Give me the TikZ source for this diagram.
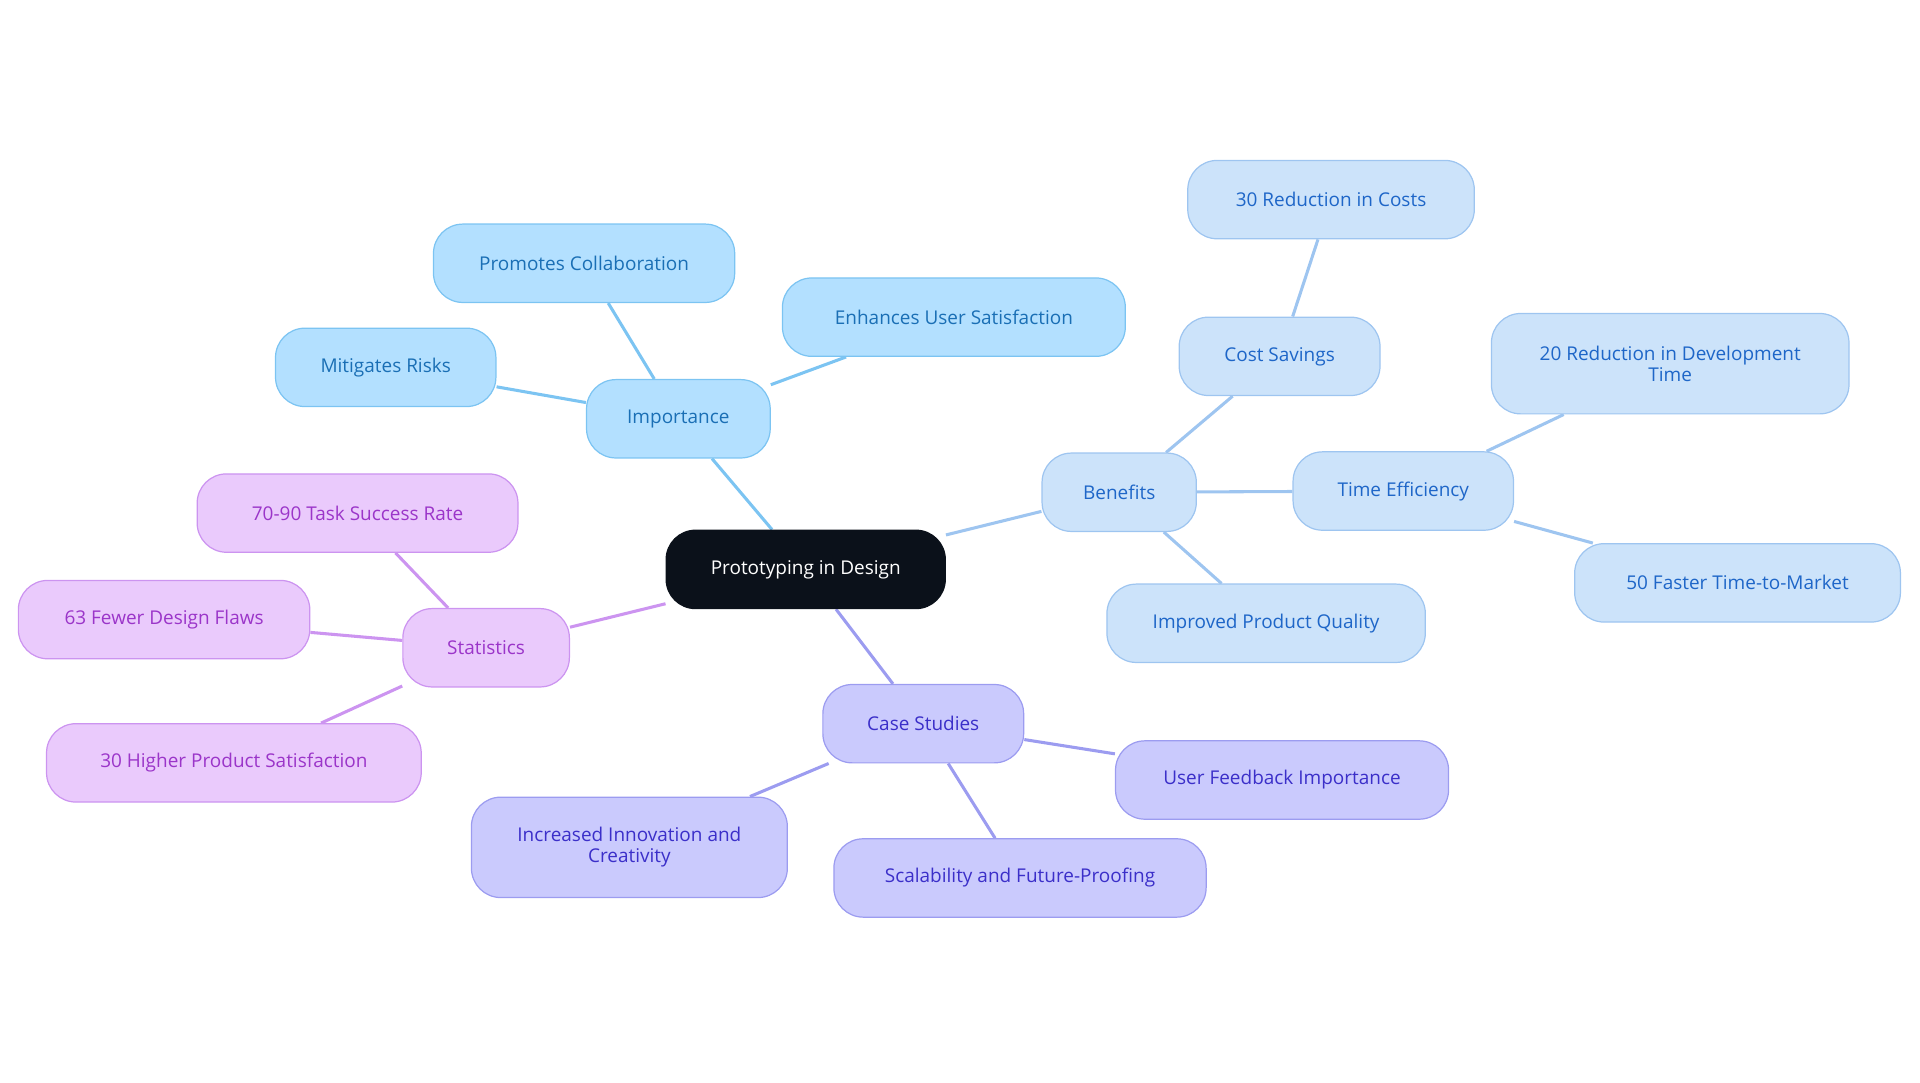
\documentclass[tikz,border=0pt]{standalone}
\usepackage{fontspec}
\setmainfont{Open Sans}
\usetikzlibrary{backgrounds}
\definecolor{cdark}{HTML}{0B111A}
\definecolor{afill}{HTML}{B3E0FF}\definecolor{aline}{HTML}{7CC4F2}\definecolor{atext}{HTML}{1A6FB5}
\definecolor{bfill}{HTML}{CCE3FA}\definecolor{bline}{HTML}{9EC5F0}\definecolor{btext}{HTML}{1E66C8}
\definecolor{cfill}{HTML}{CACAFD}\definecolor{cline}{HTML}{9C9CF0}\definecolor{ctext}{HTML}{3B2FC9}
\definecolor{dfill}{HTML}{EACAFC}\definecolor{dline}{HTML}{CC94F0}\definecolor{dtext}{HTML}{9B35C9}
\tikzset{
 box/.style={rounded corners=24pt, line width=1pt, inner sep=0pt, minimum height=64pt, align=center, font=\fontsize{15.5}{17}\selectfont},
 ga/.style={box, fill=afill, draw=aline, text=atext},
 gb/.style={box, fill=bfill, draw=bline, text=btext},
 gc/.style={box, fill=cfill, draw=cline, text=ctext},
 gd/.style={box, fill=dfill, draw=dline, text=dtext},
 ea/.style={draw=aline, line width=2.5pt},
 eb/.style={draw=bline, line width=2.5pt},
 ec/.style={draw=cline, line width=2.5pt},
 ed/.style={draw=dline, line width=2.5pt},
}
\begin{document}
\begin{tikzpicture}[x=1pt,y=-1pt]
\useasboundingbox (0,0) rectangle (1568,884);
\node[box, fill=cdark, draw=cdark, text=white, minimum width=228pt] (c) at (658,465) {Prototyping in Design};
\node[ga, minimum width=150pt] (imp) at (554,342) {Importance};
\node[ga, minimum width=246pt] (pc) at (477,215) {Promotes Collaboration};
\node[ga, minimum width=280pt] (eu) at (779,259) {Enhances User Satisfaction};
\node[ga, minimum width=180pt] (mr) at (315,300) {Mitigates Risks};
\node[gb, minimum width=126pt] (ben) at (914,402) {Benefits};
\node[gb, minimum width=164pt] (cs) at (1045,291) {Cost Savings};
\node[gb, minimum width=234pt] (rc) at (1087,163) {30 Reduction in Costs};
\node[gb, minimum width=180pt] (te) at (1146,401) {Time Efficiency};
\node[gb, minimum width=292pt, minimum height=82pt] (rd) at (1364,297) {20 Reduction in Development\\Time};
\node[gb, minimum width=266pt] (ft) at (1419,476) {50 Faster Time-to-Market};
\node[gb, minimum width=260pt] (pq) at (1034,509) {Improved Product Quality};
\node[gc, minimum width=164pt] (cst) at (754,591) {Case Studies};
\node[gc, minimum width=272pt] (uf) at (1047,637) {User Feedback Importance};
\node[gc, minimum width=304pt] (sf) at (833,717) {Scalability and Future-Proofing};
\node[gc, minimum width=258pt, minimum height=82pt] (ii) at (514,692) {Increased Innovation and\\Creativity};
\node[gd, minimum width=136pt] (st) at (397,529) {Statistics};
\node[gd, minimum width=262pt] (ts) at (292,419) {70-90 Task Success Rate};
\node[gd, minimum width=238pt] (fd) at (134,506) {63 Fewer Design Flaws};
\node[gd, minimum width=306pt] (hp) at (191,623) {30 Higher Product Satisfaction};
\begin{scope}[on background layer]
\draw[ea] (c) -- (imp); \draw[ea] (imp) -- (pc); \draw[ea] (imp) -- (eu); \draw[ea] (imp) -- (mr);
\draw[eb] (c) -- (ben); \draw[eb] (ben) -- (cs); \draw[eb] (cs) -- (rc); \draw[eb] (ben) -- (te);
\draw[eb] (te) -- (rd); \draw[eb] (te) -- (ft); \draw[eb] (ben) -- (pq);
\draw[ec] (c) -- (cst); \draw[ec] (cst) -- (uf); \draw[ec] (cst) -- (sf); \draw[ec] (cst) -- (ii);
\draw[ed] (c) -- (st); \draw[ed] (st) -- (ts); \draw[ed] (st) -- (fd); \draw[ed] (st) -- (hp);
\end{scope}
\end{tikzpicture}
\end{document}
